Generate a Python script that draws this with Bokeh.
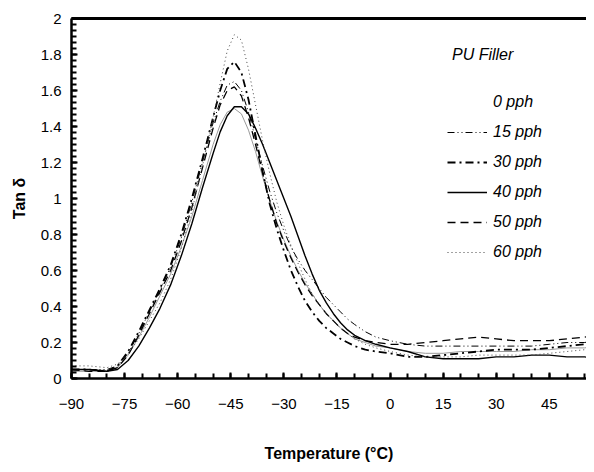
from bokeh.plotting import figure
from bokeh.models import Range1d, FixedTicker, Legend, LegendItem, Label, LinearAxis
from bokeh.embed import file_html
from bokeh.resources import INLINE

temps = [-90, -85, -80, -77, -74, -71, -68, -65, -62, -59, -56, -53, -50, -48, -46, -44, -42, -40,
         -38, -36, -34, -32, -30, -28, -26, -24, -22, -20, -18, -16, -14, -12, -10, -7, -4, 0,
         5, 10, 15, 20, 25, 30, 35, 40, 45, 50, 55, 58]

pph0 = [0.04, 0.04, 0.04, 0.06, 0.13, 0.23, 0.34, 0.46, 0.58, 0.73, 0.90, 1.10, 1.30, 1.41, 1.48, 1.50, 1.47, 1.38,
        1.26, 1.12, 0.99, 0.87, 0.77, 0.68, 0.60, 0.53, 0.47, 0.41, 0.36, 0.32, 0.28, 0.25, 0.22, 0.20, 0.18, 0.17,
        0.15, 0.14, 0.14, 0.15, 0.15, 0.15, 0.15, 0.16, 0.16, 0.17, 0.17, 0.18]
pph15 = [0.05, 0.05, 0.05, 0.07, 0.14, 0.25, 0.37, 0.49, 0.62, 0.78, 0.98, 1.20, 1.42, 1.54, 1.63, 1.65, 1.60, 1.48,
         1.33, 1.18, 1.04, 0.92, 0.82, 0.73, 0.66, 0.60, 0.55, 0.50, 0.45, 0.41, 0.37, 0.33, 0.30, 0.26, 0.23, 0.21,
         0.19, 0.18, 0.18, 0.18, 0.18, 0.18, 0.18, 0.18, 0.19, 0.20, 0.20, 0.21]
pph30 = [0.05, 0.05, 0.04, 0.07, 0.15, 0.26, 0.38, 0.50, 0.63, 0.80, 1.00, 1.22, 1.45, 1.60, 1.72, 1.76, 1.70, 1.55,
         1.35, 1.15, 0.97, 0.83, 0.71, 0.60, 0.51, 0.43, 0.37, 0.32, 0.28, 0.25, 0.22, 0.20, 0.18, 0.16, 0.15, 0.14,
         0.12, 0.12, 0.13, 0.14, 0.15, 0.16, 0.16, 0.16, 0.17, 0.18, 0.19, 0.20]
pph40 = [0.05, 0.05, 0.04, 0.05, 0.10, 0.18, 0.28, 0.39, 0.52, 0.68, 0.86, 1.06, 1.25, 1.37, 1.46, 1.51, 1.51, 1.47,
         1.39, 1.30, 1.20, 1.10, 1.00, 0.90, 0.79, 0.68, 0.58, 0.49, 0.42, 0.36, 0.31, 0.27, 0.24, 0.21, 0.19, 0.17,
         0.15, 0.12, 0.11, 0.11, 0.11, 0.12, 0.12, 0.13, 0.13, 0.12, 0.12, 0.11]
pph50 = [0.05, 0.04, 0.04, 0.06, 0.13, 0.24, 0.36, 0.48, 0.60, 0.76, 0.95, 1.17, 1.39, 1.52, 1.60, 1.62, 1.57, 1.45,
         1.30, 1.14, 0.99, 0.86, 0.76, 0.67, 0.59, 0.52, 0.46, 0.41, 0.36, 0.32, 0.28, 0.25, 0.23, 0.21, 0.20, 0.19,
         0.19, 0.20, 0.21, 0.22, 0.23, 0.22, 0.21, 0.21, 0.21, 0.22, 0.23, 0.24]
pph60 = [0.07, 0.07, 0.06, 0.08, 0.14, 0.22, 0.32, 0.42, 0.55, 0.72, 0.93, 1.18, 1.45, 1.64, 1.82, 1.91, 1.88, 1.72,
         1.52, 1.32, 1.14, 0.98, 0.85, 0.74, 0.64, 0.55, 0.47, 0.41, 0.36, 0.32, 0.28, 0.25, 0.22, 0.19, 0.17, 0.15,
         0.13, 0.12, 0.12, 0.12, 0.13, 0.13, 0.13, 0.13, 0.14, 0.15, 0.16, 0.17]

x_ticks = [-90, -75, -60, -45, -30, -15, 0, 15, 30, 45]
y_ticks = [0, 0.2, 0.4, 0.6, 0.8, 1.0, 1.2, 1.4, 1.6, 1.8, 2.0]
y_tick_labels = ["0", "0.2", "0.4", "0.6", "0.8", "1", "1.2", "1.4", "1.6", "1.8", "2"]
series_labels = ["0 pph", "15 pph", "30 pph", "40 pph", "50 pph", "60 pph"]

FONT = "Liberation Sans"

p = figure(width=586, height=464, x_range=Range1d(-90, 55.5), y_range=Range1d(0, 2),
           output_backend="svg", toolbar_location=None,
           min_border_left=71, min_border_right=0, min_border_top=18, min_border_bottom=84)
p.outline_line_color = None
p.grid.visible = False
p.background_fill_color = "white"
p.border_fill_color = "white"

p.xaxis.ticker = FixedTicker(ticks=x_ticks, minor_ticks=list(range(-90, 60, 5)))
p.yaxis.ticker = FixedTicker(ticks=y_ticks, minor_ticks=[i * 0.2 / 6 for i in range(0, 61)])
p.yaxis.major_label_overrides = {t: l for t, l in zip(y_ticks, y_tick_labels)}

for ax in (p.xaxis, p.yaxis):
    ax.axis_line_width = 2.5
    ax.axis_line_color = "black"
    ax.major_tick_in = 6
    ax.major_tick_out = 0
    ax.minor_tick_in = 5
    ax.minor_tick_out = 0
    ax.major_tick_line_width = 2
    ax.minor_tick_line_width = 2
    ax.major_label_text_font = FONT
    ax.major_label_text_font_size = "15px"
    ax.major_label_text_color = "black"
    ax.axis_label_text_font = FONT
    ax.axis_label_text_font_size = "16px"
    ax.axis_label_text_font_style = "bold"
    ax.axis_label_text_color = "black"

p.xaxis.axis_label = "Temperature (°C)"
p.yaxis.axis_label = "Tan δ"
p.xaxis.major_label_standoff = 20
p.xaxis.axis_label_standoff = 33
p.yaxis.major_label_standoff = 10
p.yaxis.axis_label_standoff = 10

top_axis = LinearAxis(ticker=FixedTicker(ticks=[]), axis_line_width=3, axis_line_color="black",
                      major_tick_in=0, major_tick_out=0, minor_tick_in=0, minor_tick_out=0,
                      major_label_text_font_size="0px", major_label_standoff=0)
p.add_layout(top_axis, "above")

r0 = p.line(temps, pph0, line_color="#9a9a9a", line_width=1)
r15 = p.line(temps, pph15, line_color="black", line_width=1, line_dash="7 3 1 3 1 3")
r30 = p.line(temps, pph30, line_color="black", line_width=1.8, line_dash="8 4 2 4")
r40 = p.line(temps, pph40, line_color="black", line_width=1.4)
r50 = p.line(temps, pph50, line_color="black", line_width=1.3, line_dash="8 5")
r60 = p.line(temps, pph60, line_color="#444444", line_width=1, line_dash="1 3")

dummy = p.line([-90], [0], line_alpha=0)

legend = Legend(items=[LegendItem(label=series_labels[0], renderers=[dummy]),
                       LegendItem(label=series_labels[1], renderers=[r15]),
                       LegendItem(label=series_labels[2], renderers=[r30]),
                       LegendItem(label=series_labels[3], renderers=[r40]),
                       LegendItem(label=series_labels[4], renderers=[r50]),
                       LegendItem(label=series_labels[5], renderers=[r60])],
                location=(376, 116), orientation="vertical",
                glyph_width=40, glyph_height=20, label_height=20, spacing=10,
                label_standoff=6, padding=0, margin=0,
                border_line_color=None, background_fill_alpha=0,
                label_text_font=FONT, label_text_font_size="16px",
                label_text_font_style="italic", label_text_color="black")
p.add_layout(legend, "center")

p.add_layout(Label(x=17.5, y=1.80, text="PU Filler", text_font=FONT, text_font_size="16px",
                   text_font_style="italic", text_baseline="middle", text_color="black"))

open("out.html", "w").write(file_html(p, INLINE))
